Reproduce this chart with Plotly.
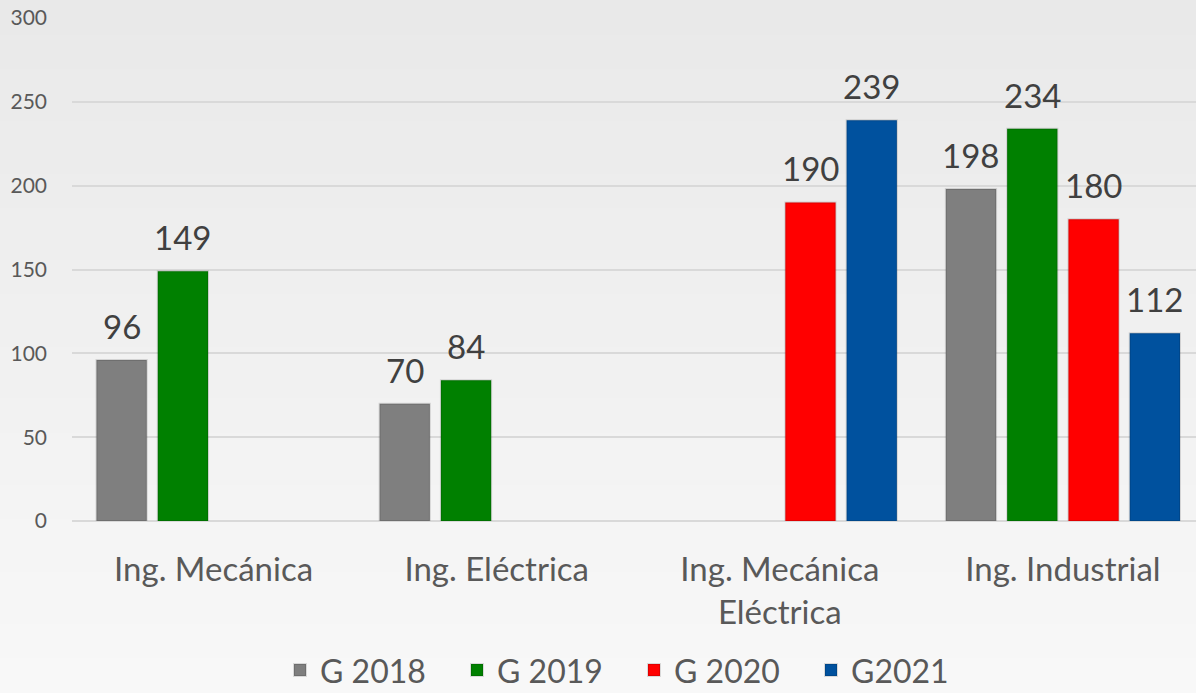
import plotly.graph_objects as go

categories = ["Ing. Mecánica", "Ing. Eléctrica", "Ing. Mecánica<br>Eléctrica", "Ing. Industrial"]
series_names = ["G 2018", "G 2019", "G 2020", "G2021"]
g2018 = [96, 70, None, 198]
g2019 = [149, 84, None, 234]
g2020 = [None, None, 190, 180]
g2021 = [None, None, 239, 112]
series_values = [g2018, g2019, g2020, g2021]
colors = ["#7f7f7f", "#008000", "#ff0000", "#00519e"]
y_ticks = [0, 50, 100, 150, 200, 250, 300]

W, H = 1196, 693
ML, MR, MT, MB = 72, 0, 18, 172
xr = [-0.5, 3.47]
bargap = 0.134
font_family = "Lato, 'Open Sans', sans-serif"

fig = go.Figure()
for name, vals, col in zip(series_names, series_values, colors):
    fig.add_trace(go.Bar(
        x=categories, y=vals, name=name,
        marker=dict(color=col, line=dict(color="rgba(0,0,0,0.12)", width=2)),
    ))

# data labels as annotations above each bar
cat_px = (W - ML - MR) / (xr[1] - xr[0])
slot = cat_px * (1 - bargap) / len(series_names)
anns = []
for si, vals in enumerate(series_values):
    off = (si - (len(series_names) - 1) / 2) * slot
    for ci, v in enumerate(vals):
        if v is None:
            continue
        anns.append(dict(x=categories[ci], y=v, xref="x", yref="y", text=str(v),
                         showarrow=False, xshift=off, yshift=12, yanchor="bottom",
                         font=dict(size=33, color="#404040", family=font_family)))

# background vertical gradient
shapes = []
n = 40
top, bot = (233, 233, 233), (248, 248, 248)
y0p = -MB / (H - MT - MB)
y1p = 1 + MT / (H - MT - MB)
for i in range(n):
    t = i / (n - 1)
    c = tuple(int(round(bot[k] + (top[k] - bot[k]) * t)) for k in range(3))
    ya = y0p + (y1p - y0p) * i / n
    yb = y0p + (y1p - y0p) * (i + 1) / n
    shapes.append(dict(type="rect", xref="paper", yref="paper", x0=-0.1, x1=1.1,
                       y0=ya, y1=yb + 0.002, fillcolor="rgb(%d,%d,%d)" % c,
                       line=dict(width=0), layer="below"))

fig.update_layout(
    width=W, height=H,
    margin=dict(l=ML, r=MR, t=MT, b=MB, pad=0, autoexpand=False),
    paper_bgcolor="#f0f0f0", plot_bgcolor="rgba(0,0,0,0)",
    barmode="group", bargap=bargap, bargroupgap=0.18,
    font=dict(family=font_family, color="#595959"),
    annotations=anns, shapes=shapes,
    showlegend=True,
    legend=dict(orientation="h", x=0.5, xanchor="center", y=-0.242, yanchor="top",
                font=dict(size=32, color="#595959"), itemwidth=30,
                entrywidth=132, entrywidthmode="pixels",
                bgcolor="rgba(0,0,0,0)", traceorder="normal"),
    xaxis=dict(range=xr, showgrid=False, showline=False, zeroline=False,
               tickfont=dict(size=33, color="#595959"),
               ticks="outside", ticklen=19, tickcolor="rgba(0,0,0,0)"),
    yaxis=dict(range=[0, 300], tickvals=y_ticks, showgrid=True, gridcolor="#d9d9d9",
               gridwidth=1.5, zeroline=True, zerolinecolor="#d9d9d9", zerolinewidth=1.5,
               showline=False, tickfont=dict(size=21, color="#595959"),
               ticklabelstandoff=24),
)

fig.write_html("out.html", config={"displayModeBar": False},
               post_script="document.body.style.margin='0';document.body.style.background='#f0f0f0';")
